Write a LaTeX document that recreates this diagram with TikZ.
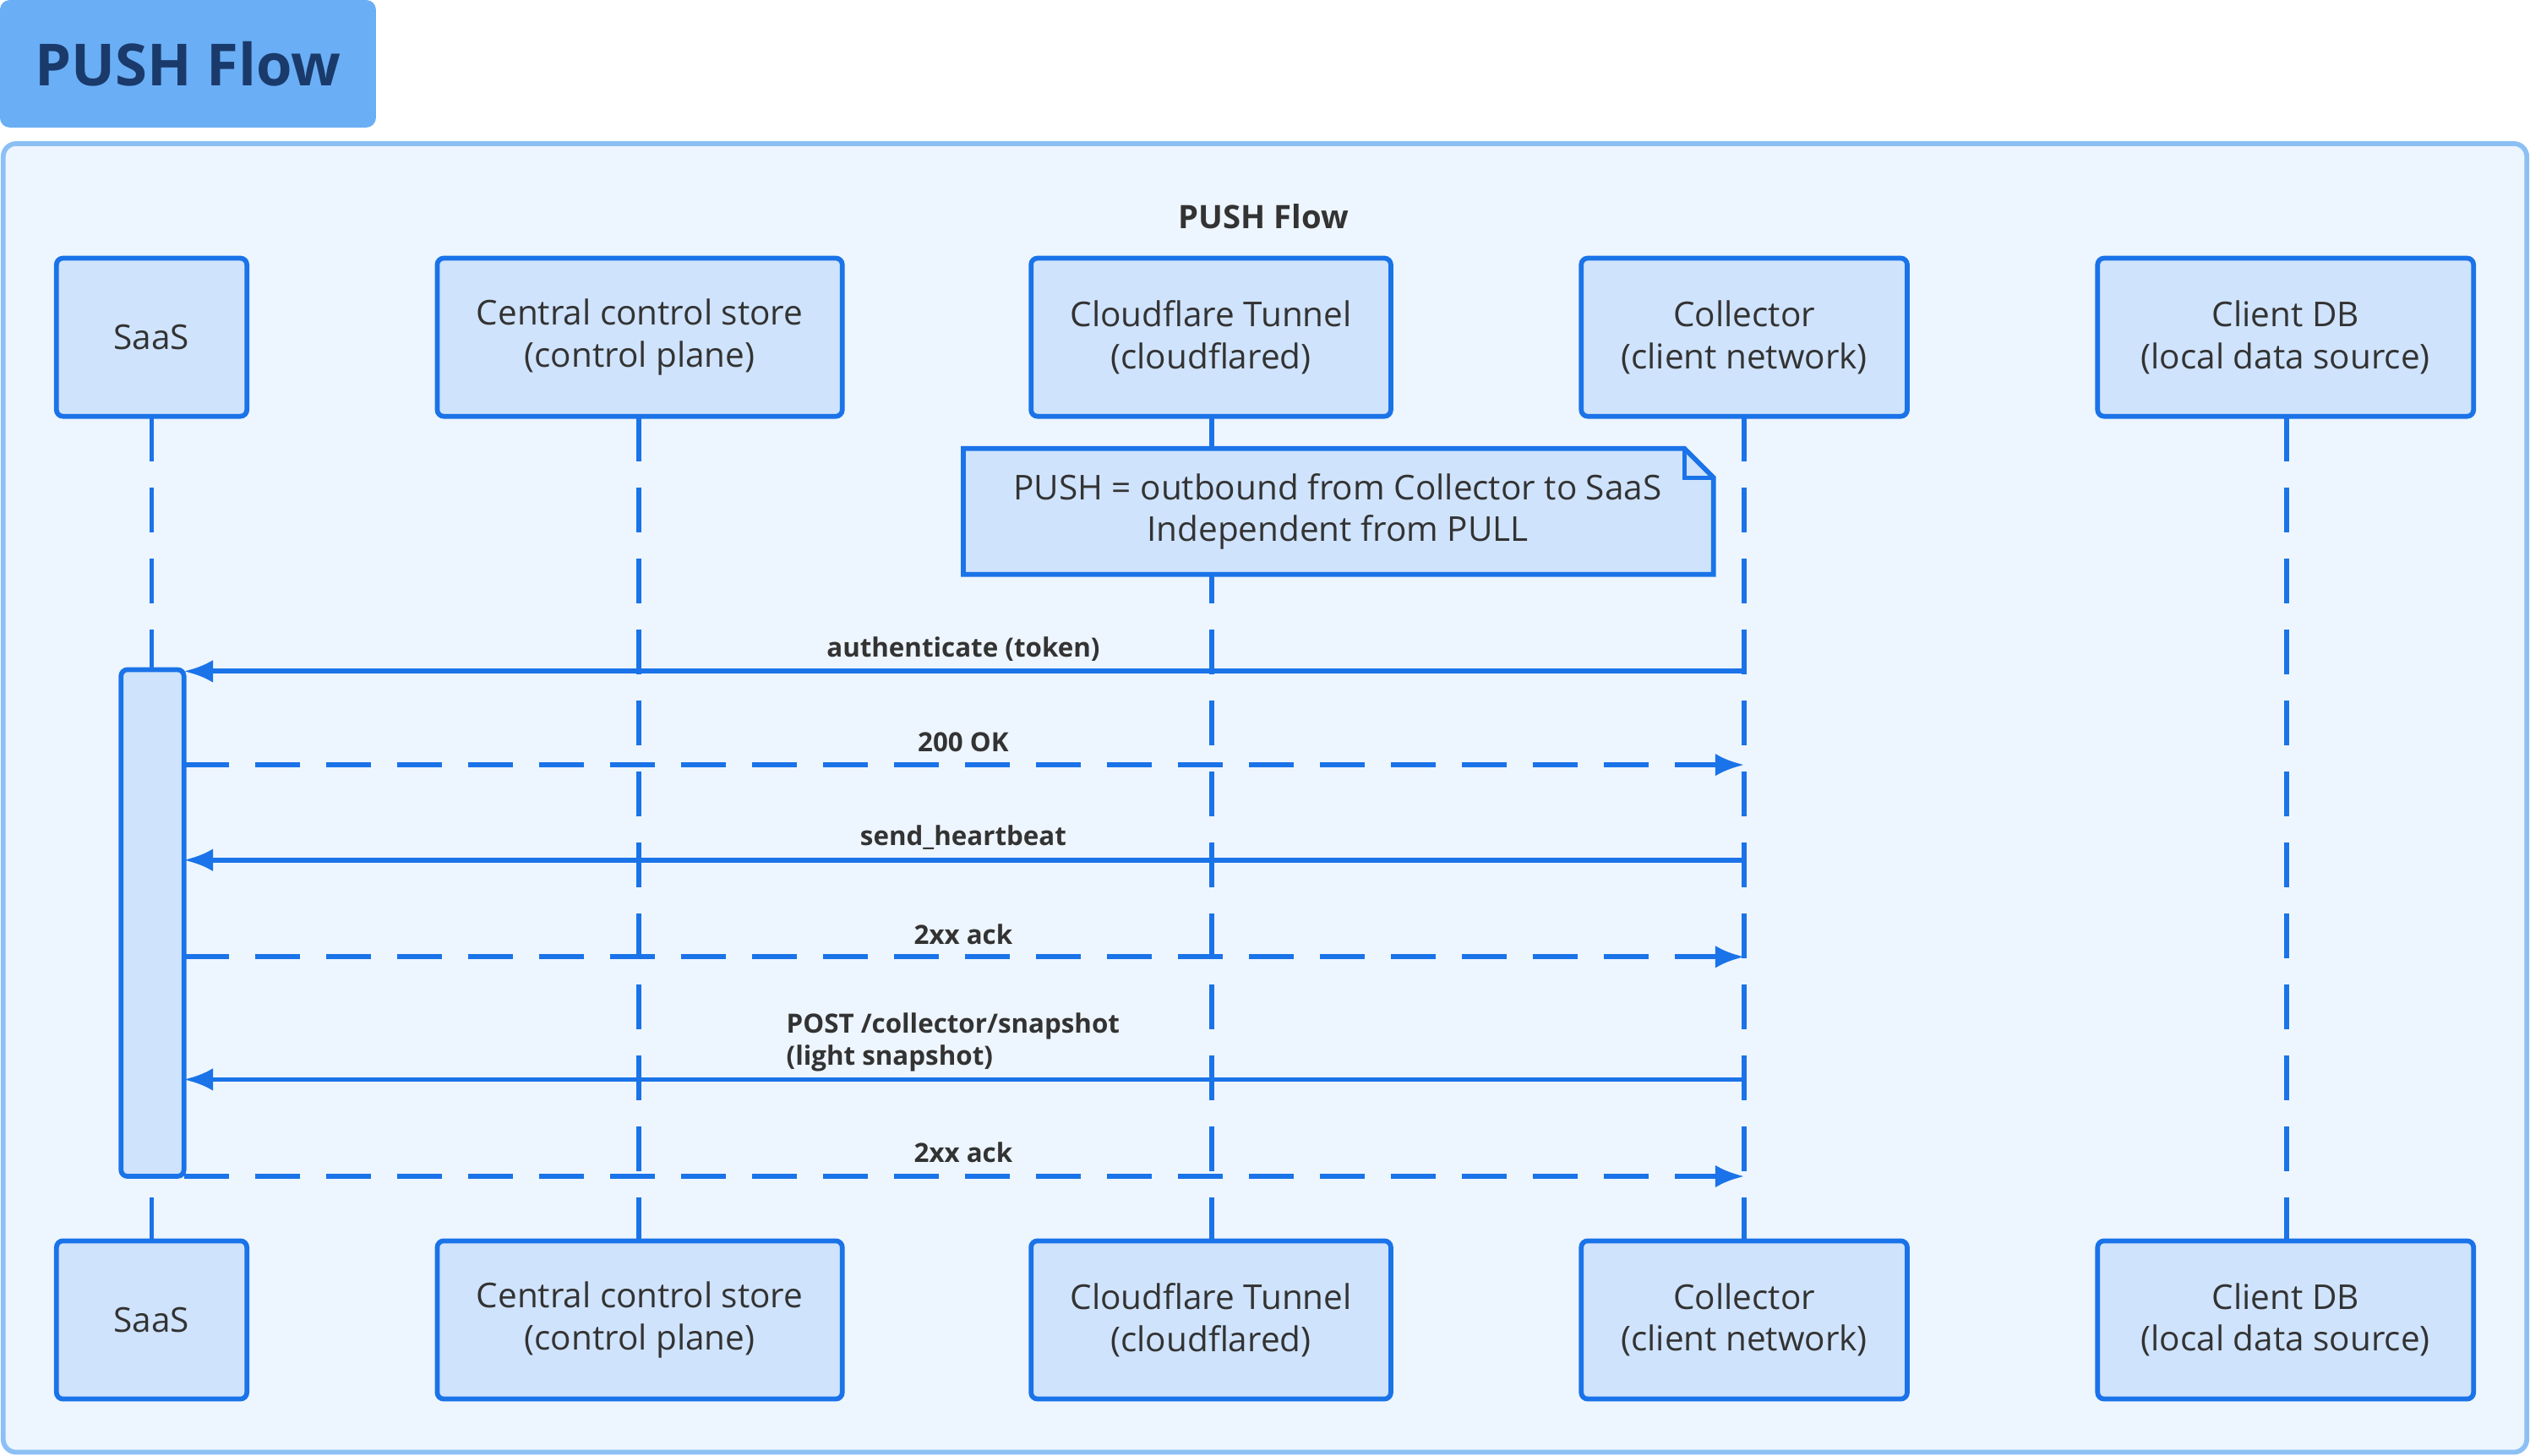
\documentclass[tikz,border=0pt]{standalone}
\usepackage{fontspec}
\setmainfont{Open Sans}
\usetikzlibrary{arrows.meta}
\definecolor{ln}{HTML}{1A73E8}
\definecolor{bx}{HTML}{CFE3FC}
\definecolor{bg}{HTML}{EDF5FE}
\definecolor{fr}{HTML}{8CC0F5}
\definecolor{tab}{HTML}{6AAEF5}
\definecolor{tx}{HTML}{333333}
\definecolor{ttl}{HTML}{1A3A6B}
\begin{document}
\begin{tikzpicture}[x=0.5pt,y=-0.5pt,
 actor/.style={draw=ln,fill=bx,line width=1.5pt,rounded corners=2pt,text=tx,font=\fontsize{10.6}{13}\selectfont,align=center,inner sep=0pt},
 life/.style={ln,line width=1.5pt,dash pattern=on 14pt off 8pt},
 msg/.style={ln,line width=1.5pt,-{Latex[length=9pt,width=7pt]}},
 rep/.style={msg,dash pattern=on 14pt off 8pt},
 lab/.style={font=\bfseries\fontsize{8.2}{10}\selectfont,text=tx,inner sep=0pt}]
\useasboundingbox (0,0) rectangle (1568,902);
\node[fill=tab,rounded corners=3pt,minimum width=116.5pt,minimum height=39.5pt,inner sep=0pt,font=\bfseries\fontsize{18}{22}\selectfont,text=ttl] (tab) at (116.5,39.5) {PUSH Flow};
\draw[fr,fill=bg,line width=1.5pt,rounded corners=4pt] (2,89) rectangle (1566,900);
\node[font=\bfseries\fontsize{10}{12}\selectfont,text=tx] (ft) at (783,134) {PUSH Flow};
% lifelines
\foreach \n/\x in {s/94,c/396,t/751,k/1081,d/1417}{
 \coordinate (\n1) at (\x,258); \coordinate (\n2) at (\x,769);
 \draw[life] (\n1) -- (\n2);}
% boxes
\foreach \p/\y in {T/209,B/818}{
 \node[actor,minimum width=59pt,minimum height=49pt] (s\p) at (94,\y) {SaaS};
 \node[actor,minimum width=125.5pt,minimum height=49pt] (c\p) at (396.5,\y) {Central control store\\(control plane)};
 \node[actor,minimum width=111.5pt,minimum height=49pt] (t\p) at (750.5,\y) {Cloudflare Tunnel\\(cloudflared)};
 \node[actor,minimum width=101pt,minimum height=49pt] (k\p) at (1081,\y) {Collector\\(client network)};
 \node[actor,minimum width=116.5pt,minimum height=49pt] (d\p) at (1416.5,\y) {Client DB\\(local data source)};
}
% note
\draw[ln,fill=bx,line width=1.5pt] (597,278) -- (1044,278) -- (1062,296) -- (1062,356) -- (597,356) -- cycle;
\draw[ln,line width=1.2pt] (1044,278) -- (1044,296) -- (1062,296);
\node[text=tx,font=\fontsize{10.6}{13}\selectfont,align=center] (note) at (829,317) {PUSH = outbound from Collector to SaaS\\Independent from PULL};
% activation
\draw[ln,fill=bx,line width=1.5pt,rounded corners=2pt] (75,415) rectangle (114,729);
\foreach \n/\y in {a/416,b/474,c/533,d/593,e/669,f/729}{
 \coordinate (L\n) at (114,\y); \coordinate (R\n) at (1081,\y);}
\draw[msg] (Ra) -- (La); \node[lab] (la) at (597,402) {authenticate (token)};
\draw[rep] (Lb) -- (Rb); \node[lab] (lb) at (597,460) {200 OK};
\draw[msg] (Rc) -- (Lc); \node[lab] (lc) at (597,519) {send\_heartbeat};
\draw[rep] (Ld) -- (Rd); \node[lab] (ld) at (597,579) {2xx ack};
\draw[msg] (Re) -- (Le); \node[lab,align=left,anchor=west] (le) at (487,646) {POST /collector/snapshot\\(light snapshot)};
\draw[rep] (Lf) -- (Rf); \node[lab] (lf) at (597,714) {2xx ack};
\end{tikzpicture}
\end{document}
